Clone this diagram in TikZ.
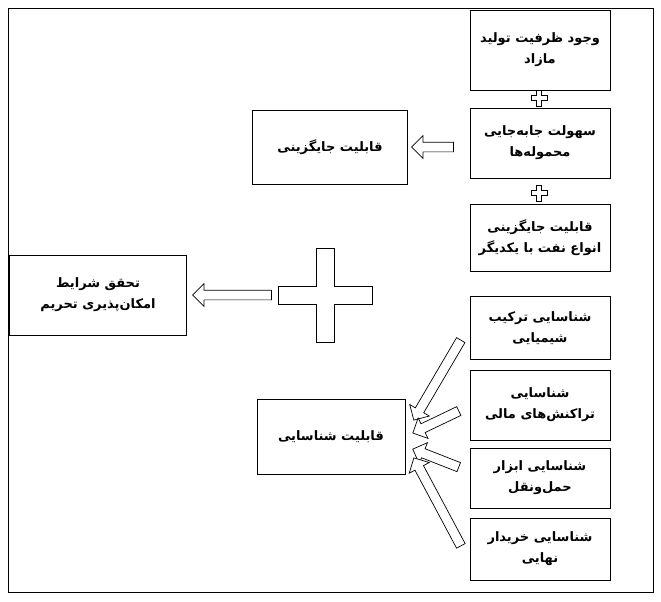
\documentclass[tikz,border=0pt]{standalone}
\usepackage{fontspec}
\TeXXeTstate=1
\newfontfamily\arabicfont[Script=Arabic]{DejaVu Sans}
\usetikzlibrary{shapes.arrows,calc}
\tikzset{
 bx/.style={draw,line width=0.8pt,align=center,font=\arabicfont\bfseries\fontsize{13}{21}\selectfont,inner sep=2pt},
 harr/.style={single arrow,draw,line width=0.7pt,fill=white,single arrow head extend=6.5pt,inner sep=0pt,single arrow tip angle=90},
}
\newcommand{\harrow}[2]{\path let \p1=(#1), \p2=(#2), \n1={atan2(\y2-\y1,\x2-\x1)}, \n2={veclen(\x2-\x1,\y2-\y1)} in node[harr,minimum height=\n2,rotate=\n1] at ($(#1)!0.5!(#2)$) {\rule{0pt}{9pt}};}
\newcommand{\plusshape}[4]{% cx cy half-length half-thickness
 \draw[line width=0.8pt,fill=white] (#1-#4,#2-#3) -- (#1+#4,#2-#3) -- (#1+#4,#2-#4) -- (#1+#3,#2-#4) -- (#1+#3,#2+#4) -- (#1+#4,#2+#4) -- (#1+#4,#2+#3) -- (#1-#4,#2+#3) -- (#1-#4,#2+#4) -- (#1-#3,#2+#4) -- (#1-#3,#2-#4) -- (#1-#4,#2-#4) -- cycle;}
\begin{document}
\begin{tikzpicture}[x=1pt,y=-1pt]
\useasboundingbox (0,0) rectangle (661,602);
\draw[line width=0.8pt] (8,8) rectangle (653,592);
\node[bx,minimum width=140pt,minimum height=80pt] (a1) at (540,50) {\beginR وجود ظرفیت تولید\endR\\\beginR مازاد\endR};
\node[bx,minimum width=140pt,minimum height=70pt] (a2) at (540,143) {\beginR سهولت جابه‌جایی\endR\\\beginR محموله‌ها\endR};
\node[bx,minimum width=140pt,minimum height=67pt] (a3) at (540,238) {\beginR قابلیت جایگزینی\endR\\\beginR انواع نفت با یکدیگر\endR};
\node[bx,minimum width=155pt,minimum height=74pt] (A) at (330,147) {\beginR قابلیت جایگزینی\endR};
\node[bx,minimum width=177pt,minimum height=80pt] (G) at (98,295) {\beginR تحقق شرایط\endR\\\beginR امکان‌پذیری تحریم\endR};
\node[bx,minimum width=140pt,minimum height=63pt] (b1) at (540,328) {\beginR شناسایی ترکیب\endR\\\beginR شیمیایی\endR};
\node[bx,minimum width=140pt,minimum height=70pt] (b2) at (540,405) {\beginR شناسایی\endR\\\beginR تراکنش‌های مالی\endR};
\node[bx,minimum width=140pt,minimum height=60pt] (b3) at (540,478) {\beginR شناسایی ابزار\endR\\\beginR حمل‌ونقل\endR};
\node[bx,minimum width=140pt,minimum height=62pt] (b4) at (540,549) {\beginR شناسایی خریدار\endR\\\beginR نهایی\endR};
\node[bx,minimum width=148pt,minimum height=75pt] (B) at (331,437) {\beginR قابلیت شناسایی\endR};
\plusshape{539}{98}{8}{2.5}
\plusshape{539}{193}{8}{2.5}
\plusshape{325}{295}{47}{9}
\coordinate (p1) at (456,147); \coordinate (p2) at (414,147);
\harrow{p1}{p2}
\coordinate (q1) at (274,295); \coordinate (q2) at (195,295);
\harrow{q1}{q2}
\coordinate (r1) at (462,338); \coordinate (r2) at (415,418);
\coordinate (s1) at (461,410); \coordinate (s2) at (415,432);
\coordinate (t1) at (461,468); \coordinate (t2) at (415,450);
\coordinate (u1) at (462,548); \coordinate (u2) at (415,460);
\harrow{r1}{r2}\harrow{s1}{s2}\harrow{t1}{t2}\harrow{u1}{u2}
\end{tikzpicture}
\end{document}
